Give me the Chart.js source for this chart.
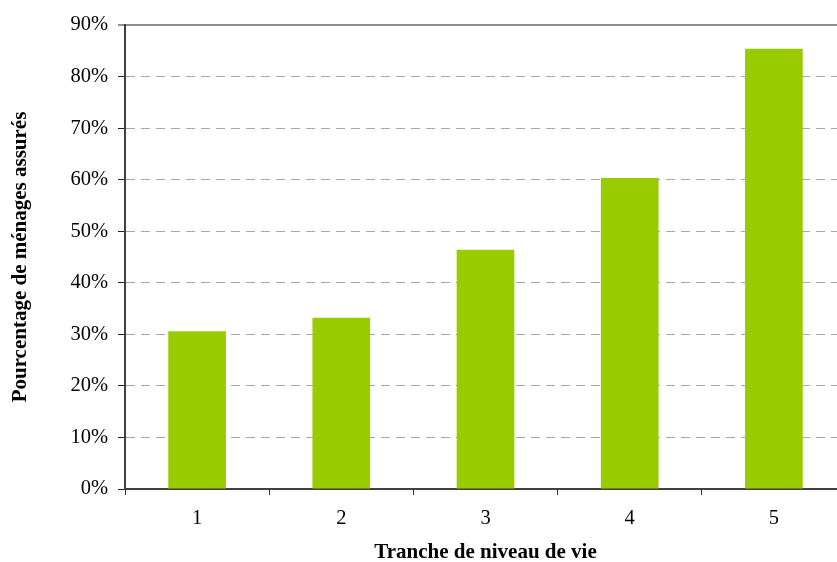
<!DOCTYPE html>
<html>
<head>
<meta charset="utf-8">
<script src="https://cdn.jsdelivr.net/npm/chart.js@4/dist/chart.umd.min.js"></script>
<style>
  html, body { margin: 0; padding: 0; background: #fff; overflow: hidden; }
  #wrap { width: 837px; height: 562px; overflow: hidden; }
</style>
</head>
<body>
<div id="wrap"><canvas id="chart" width="860" height="562"></canvas></div>
<script>
// tranches de niveau de vie
const categories = ["1", "2", "3", "4", "5"];
// pourcentage de ménages assurés
const values = [30.6, 33.2, 46.4, 60.3, 85.4];
const yTicks = [0, 10, 20, 30, 40, 50, 60, 70, 80, 90];

const barColor = "#99cc00";
const serif = "'Liberation Serif', 'Times New Roman', serif";

const ctx = document.getElementById("chart");
new Chart(ctx, {
  type: "bar",
  data: {
    labels: categories,
    datasets: [{
      data: values,
      backgroundColor: barColor,
      barPercentage: 0.4,
      categoryPercentage: 1,
    }],
  },
  options: {
    responsive: false,
    animation: false,
    layout: { padding: { top: 25, left: 0, right: 14, bottom: 0 } },
    plugins: { legend: { display: false }, tooltip: { enabled: false } },
    scales: {
      x: {
        grid: { display: true, offset: true, drawOnChartArea: false, tickLength: 6, tickColor: "#333", tickWidth: 1 },
        border: { color: "#404040", width: 2 },
        ticks: { color: "#000", font: { family: serif, size: 20.5 }, padding: 11 },
        title: { display: true, text: "Tranche de niveau de vie", color: "#000",
                 font: { family: serif, size: 21, weight: "bold" }, padding: { top: 0, bottom: -3 } },
        afterFit: (s) => { s.height = 73; },
      },
      y: {
        min: 0,
        max: 90,
        afterBuildTicks: (s) => { s.ticks = yTicks.map((v) => ({ value: v })); },
        grid: {
          color: (c) => (c.tick && c.tick.value === 90 ? "#8c8c8c" : c.tick && c.tick.value === 0 ? "rgba(0,0,0,0)" : "#a8a8a8"),
          lineWidth: (c) => (c.tick && c.tick.value === 90 ? 2 : 1),
          tickLength: 7,
          tickColor: "#222",
          tickWidth: 1,
          tickBorderDash: [],
        },
        border: { color: "#404040", width: 2, dash: (c) => (c.tick && c.tick.value === 90 ? [] : [9, 6]) },
        ticks: { color: "#000", font: { family: serif, size: 20.5 }, padding: 10,
                 callback: (v) => v + "%" },
        title: { display: true, text: "Pourcentage de ménages assurés", color: "#000",
                 font: { family: serif, size: 21, weight: "bold" }, padding: { top: 8, bottom: 0 } },
        afterFit: (s) => { s.width = 125; },
      },
    },
  },
});
</script>
</body>
</html>
